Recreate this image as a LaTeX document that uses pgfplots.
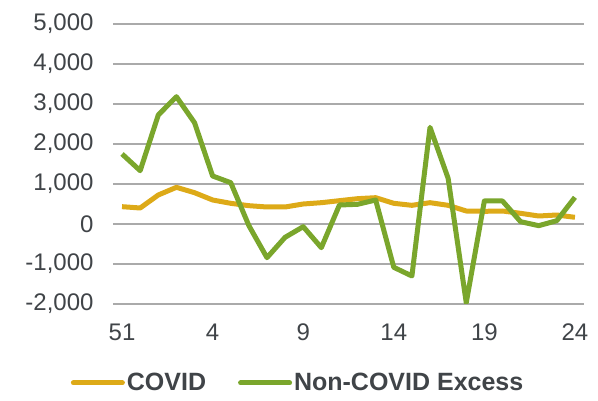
\documentclass[border=0pt]{standalone}
\usepackage{pgfplots}
\pgfplotsset{compat=1.18}
\usepackage{fontspec}
\setmainfont{Liberation Sans}
\definecolor{cyel}{RGB}{221,170,24}
\definecolor{cgrn}{RGB}{122,166,44}
\definecolor{ctxt}{RGB}{64,68,72}
\definecolor{cgrid}{RGB}{170,170,170}
\pgfplotstableread{
i covid noncovid
0 433 1750
1 400 1333
2 725 2725
3 917 3183
4 783 2533
5 600 1200
6 517 1033
7 458 -40
8 425 -842
9 425 -333
10 500 -67
11 533 -592
12 583 475
13 633 492
14 658 600
15 517 -1083
16 467 -1300
17 533 2417
18 467 1142
19 325 -1967
20 317 575
21 325 575
22 267 58
23 200 -42
24 225 83
25 167 667
}\data
\begin{document}
\begin{tikzpicture}
\useasboundingbox (0,0) rectangle (598pt,401pt);
\begin{axis}[
  at={(113pt,97pt)}, anchor=south west,
  scale only axis, width=471pt, height=280pt,
  xmin=-0.5, xmax=25.5, ymin=-2000, ymax=5000,
  axis line style={draw=none},
  ytick={-2000,-1000,0,1000,2000,3000,4000,5000},
  yticklabels={{-2,000},{-1,000},0,{1,000},{2,000},{3,000},{4,000},{5,000}},
  xtick={0,5,10,15,20,25},
  xticklabels={51,4,9,14,19,24},
  major tick length=0pt,
  ymajorgrids, grid style={cgrid, line width=1.1pt},
  tick label style={font=\fontsize{24}{28}\selectfont, text=ctxt},
  yticklabel style={xshift=-16pt},
  xticklabel style={yshift=-16pt},
  legend style={at={(0.393,-0.282)}, anchor=center, draw=none, fill=none,
    inner sep=0pt, nodes={inner sep=2pt},
    legend columns=2, font=\fontsize{25}{29}\selectfont\bfseries, text=ctxt,
    /tikz/every even column/.append style={column sep=30pt}},
  legend image code/.code={\draw[#1, line cap=round] (2.5pt,0pt) -- (51.5pt,0pt);},
]
\addplot[cyel, line width=5pt, line join=round] table[x=i, y=covid] {\data};
\addlegendentry{COVID}
\addplot[cgrn, line width=5pt, line join=round] table[x=i, y=noncovid] {\data};
\addlegendentry{Non-COVID Excess}
\end{axis}
\end{tikzpicture}
\end{document}
